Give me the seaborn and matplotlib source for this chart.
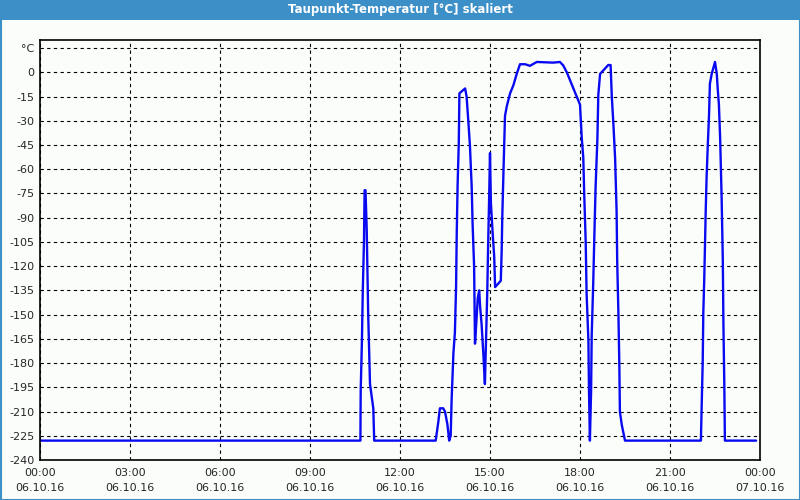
import matplotlib
matplotlib.use("Agg")
import matplotlib.pyplot as plt
import seaborn as sns
import pandas as pd
from matplotlib.patches import Rectangle
from matplotlib.ticker import MultipleLocator

# ---- data (hours since 06.10.16 00:00, dew point °C) ----
hours = [0.0, 10.68, 10.69, 10.73, 10.76, 10.80, 10.82, 10.85, 10.89, 10.94, 11.0, 11.11, 11.14,
         13.19, 13.28, 13.33, 13.44, 13.5, 13.58, 13.64, 13.69, 13.72, 13.78, 13.83, 13.87, 13.89,
         13.92, 13.96, 13.98, 14.17, 14.22, 14.28, 14.33, 14.39, 14.42, 14.47, 14.5, 14.56, 14.59,
         14.64, 14.67, 14.72, 14.78, 14.83, 14.87, 14.91, 14.94, 14.97, 15.0, 15.03, 15.09, 15.14,
         15.17, 15.36, 15.39, 15.41, 15.44, 15.47, 15.5, 15.56, 15.67, 15.78, 15.89, 16.0, 16.17,
         16.33, 16.56, 17.11, 17.33, 17.44, 17.56, 17.67, 17.78, 17.89, 18.0, 18.06, 18.11, 18.14,
         18.19, 18.22, 18.28, 18.3, 18.33, 18.37, 18.39, 18.44, 18.48, 18.52, 18.58, 18.61, 18.67,
         18.94, 19.02, 19.06, 19.11, 19.17, 19.22, 19.24, 19.28, 19.31, 19.33, 19.39, 19.5,
         22.03, 22.06, 22.09, 22.11, 22.14, 22.17, 22.19, 22.22, 22.26, 22.3, 22.33, 22.39, 22.5,
         22.56, 22.59, 22.63, 22.67, 22.72, 22.76, 22.78, 22.81, 22.83, 23.87]
dewpoint = [-228, -228, -197, -167, -135, -104, -73, -73, -97, -150, -193, -208, -228,
            -228, -216, -208, -208, -210, -218, -228, -225, -203, -174, -161, -132, -101,
            -70, -43, -13, -10, -15, -31, -45, -71, -94, -120, -168, -150, -140,
            -135, -145, -156, -175, -193, -164, -135, -105, -79, -50, -81, -100, -114,
            -133, -129, -110, -89, -68, -47, -27, -21, -13, -8, -1, 5, 5,
            4, 6.4, 6, 6.4, 4.3, 0, -5, -10, -15, -20, -41, -53, -75,
            -105, -137, -166, -197, -228, -197, -163, -131, -100, -71, -41, -14, -1,
            4.5, 4.5, -15, -31, -53, -86, -117, -149, -180, -210, -218, -228,
            -228, -203, -180, -149, -129, -104, -86, -65, -45, -27, -7, -1, 6.4,
            -1, -10, -20, -40, -77, -116, -155, -193, -228, -228]

x_ticks = [0, 3, 6, 9, 12, 15, 18, 21, 24]
x_labels = ["00:00\n06.10.16", "03:00\n06.10.16", "06:00\n06.10.16", "09:00\n06.10.16",
            "12:00\n06.10.16", "15:00\n06.10.16", "18:00\n06.10.16", "21:00\n06.10.16",
            "00:00\n07.10.16"]
y_ticks = list(range(-240, 16, 15))
y_labels = [str(v) for v in y_ticks[:-1]] + ["°C"]
title = "Taupunkt-Temperatur [°C] skaliert"

df = pd.DataFrame({"h": hours, "v": dewpoint})

sns.set_style("white")
plt.rcParams["font.family"] = ["DejaVu Sans"]

bg = "#fbfdfb"
bar = "#3d8fc8"
fig = plt.figure(figsize=(8, 5), dpi=100, facecolor=bg)

# title bar and frame
fig.add_artist(Rectangle((0, 1 - 20 / 500), 1, 20 / 500, transform=fig.transFigure,
                         facecolor=bar, edgecolor="none", zorder=0))
fig.add_artist(Rectangle((0.5 / 800, 0.5 / 500), 1 - 1 / 800, 1 - 1 / 500, transform=fig.transFigure,
                         facecolor="none", edgecolor=bar, lw=1.5, zorder=0))
fig.text(0.5, 1 - 10 / 500, title, ha="center", va="center", color="white",
         fontsize=8.5, fontweight="bold")

ax = fig.add_axes([40 / 800, 40 / 500, 720 / 800, 420 / 500])
ax.set_facecolor(bg)
sns.lineplot(data=df, x="h", y="v", ax=ax, color="#0a0af0", lw=1.7, estimator=None, sort=False)

ax.set_xlim(0, 24)
ax.set_ylim(-240, 20)
ax.set_xticks(x_ticks)
ax.set_xticklabels(x_labels, fontsize=8, linespacing=1.6)
ax.set_yticks(y_ticks)
ax.set_yticklabels(y_labels, fontsize=8)
ax.xaxis.set_minor_locator(MultipleLocator(1))
ax.tick_params(axis="x", which="both", direction="in", length=4, width=0.8, color="black", pad=6)
ax.tick_params(axis="y", which="both", length=0, pad=4)
ax.set_xlabel("")
ax.set_ylabel("")
ax.grid(True, color="black", linestyle=(0, (3, 3)), lw=0.8)
for s in ax.spines.values():
    s.set_color("black")
    s.set_linewidth(1.2)
    s.set_visible(True)

fig.savefig("out.png", dpi=100, facecolor=bg)
